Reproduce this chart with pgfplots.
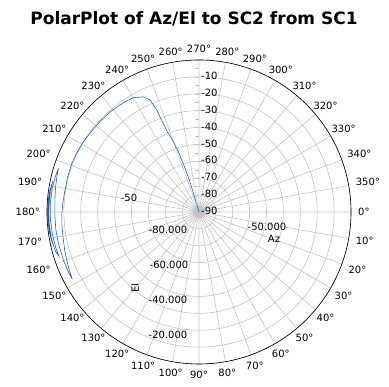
\documentclass[border=0pt]{standalone}
\usepackage{pgfplots}
\pgfplotsset{compat=1.18}
\usepgfplotslibrary{polar}
\usetikzlibrary{calc}
\usepackage{pgfplotstable}
\usepackage{fontspec}
\setmainfont{DejaVu Sans}
\definecolor{curve}{RGB}{35,95,200}
\definecolor{gridc}{RGB}{195,195,195}
\pgfplotstableread{
az el
254 -90
253.5 -80
253.3 -71.5
252.2 -62
251.1 -52.2
249.8 -45
248.5 -38.9
247.8 -31
247.5 -24.6
246.4 -17.6
244.2 -14.3
240.1 -11.9
235.1 -11.3
228.4 -10.7
222.4 -10.6
217 -10.4
211.5 -9.9
206 -9.6
200.9 -9.4
195 -9.5
189.3 -9.6
184 -9.2
179.5 -8.8
174 -8.4
168.3 -8.0
164 -7.3
160.1 -6.7
156 -5.8
152.1 -5.1
155 -4.9
160 -4.8
167.5 -4.7
173 -4.6
178.8 -4.6
185 -4.3
190 -3.8
194 -3.3
197.3 -2.8
194 -2.4
189 -2.0
183 -1.8
177 -1.9
171 -2.2
166 -2.6
162.5 -3.0
165 -1.8
170 -1.2
176 -1.0
182 -1.0
188 -1.2
192 -1.5
188 -0.9
182 -0.7
176 -0.7
171 -0.9
168 -1.2
172 -0.6
178 -0.4
184 -0.5
189 -0.8
184 -0.3
178 -0.3
173 -0.5
}\track

\begin{document}
\begin{tikzpicture}[
  rlab/.style={anchor=west, inner sep=0pt, xshift=2pt, yshift=1pt, font=\fontsize{10}{12}\selectfont},
  flab/.style={inner sep=0pt, font=\fontsize{10}{12}\selectfont}]
\begin{polaraxis}[
  scale only axis, width=304pt, height=304pt,
  xmin=0, xmax=360, ymin=0, ymax=90,
  xtick={0,10,...,350},
  ytick={0,10,...,90},
  xticklabels={},
  yticklabels={},
  grid=major,
  major grid style={draw=gridc, line width=0.6pt},
  axis line style={draw=none},
  major tick length=0pt,
  tick style={draw=none},
]
\addplot[no marks, color=curve, line width=0.6pt] table[x expr={360-\thisrow{az}}, y expr={\thisrow{el}+90}] {\track};
\coordinate (C) at (axis cs:0,0);
\coordinate (R) at (axis cs:0,90);
\node[rlab] at (axis cs:90,80) {-10};
\node[rlab] at (axis cs:90,70) {-20};
\node[rlab] at (axis cs:90,60) {-30};
\node[rlab] at (axis cs:90,50) {-40};
\node[rlab] at (axis cs:90,40) {-50};
\node[rlab] at (axis cs:90,30) {-60};
\node[rlab] at (axis cs:90,20) {-70};
\node[rlab] at (axis cs:90,10) {-80};
\node[rlab] at (axis cs:90,0) {-90};
\draw[gridc] (axis cs:90,5) -- ++(-4pt,0pt);
\draw[gridc] (axis cs:90,10) -- ++(-4pt,0pt);
\draw[gridc] (axis cs:90,15) -- ++(-4pt,0pt);
\draw[gridc] (axis cs:90,20) -- ++(-4pt,0pt);
\draw[gridc] (axis cs:90,25) -- ++(-4pt,0pt);
\draw[gridc] (axis cs:90,30) -- ++(-4pt,0pt);
\draw[gridc] (axis cs:90,35) -- ++(-4pt,0pt);
\draw[gridc] (axis cs:90,40) -- ++(-4pt,0pt);
\draw[gridc] (axis cs:90,45) -- ++(-4pt,0pt);
\draw[gridc] (axis cs:90,50) -- ++(-4pt,0pt);
\draw[gridc] (axis cs:90,55) -- ++(-4pt,0pt);
\draw[gridc] (axis cs:90,60) -- ++(-4pt,0pt);
\draw[gridc] (axis cs:90,65) -- ++(-4pt,0pt);
\draw[gridc] (axis cs:90,70) -- ++(-4pt,0pt);
\draw[gridc] (axis cs:90,75) -- ++(-4pt,0pt);
\draw[gridc] (axis cs:90,80) -- ++(-4pt,0pt);
\draw[gridc] (axis cs:90,85) -- ++(-4pt,0pt);
\end{polaraxis}
\draw[black, line width=0.6pt] let \p1=($(R)-(C)$) in (C) circle ({veclen(\x1,\y1)});
\foreach \a [evaluate=\a as \b using {int(mod(540-\a,360))}] in {0,10,...,350}
  \node[font=\fontsize{10}{12}\selectfont, inner sep=0pt, anchor=\b] at ([shift={(-\a:159pt)}]C) {\a°};
\node[flab] at ([shift={(-70pt,14pt)}]C) {-50};
\node[flab] at ([shift={(-31pt,-18pt)}]C) {-80.000};
\node[flab] at ([shift={(-30pt,-53pt)}]C) {-60.000};
\node[flab] at ([shift={(-31pt,-88pt)}]C) {-40.000};
\node[flab] at ([shift={(-31pt,-123pt)}]C) {-20.000};
\node[flab, rotate=90] at ([shift={(-64pt,-76pt)}]C) {El};
\node[flab] at ([shift={(68pt,-15pt)}]C) {-50.000};
\node[flab] at ([shift={(75pt,-27pt)}]C) {Az};
\node[inner sep=0pt, font=\bfseries\fontsize{17}{20}\selectfont] at ([shift={(-5pt,193pt)}]C) {PolarPlot of Az/El to SC2 from SC1};
\pgfresetboundingbox
\path ([shift={(-199pt,212pt)}]C) rectangle ++(389pt,-387pt);
\end{tikzpicture}
\end{document}
